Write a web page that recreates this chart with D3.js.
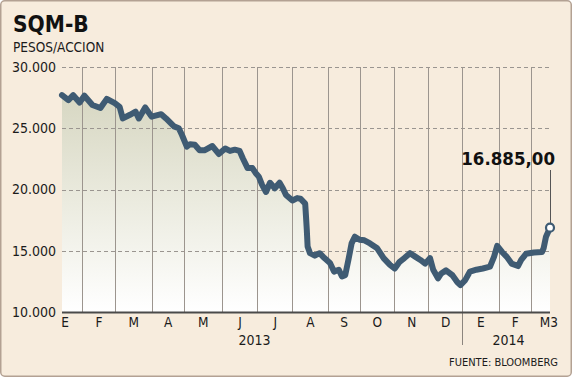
<!DOCTYPE html>
<html>
<head>
<meta charset="utf-8">
<script src="https://cdn.jsdelivr.net/npm/d3@7"></script>
<style>
  html, body { margin: 0; padding: 0; background: #ffffff; }
  svg text { font-family: "DejaVu Sans Condensed", "DejaVu Sans", sans-serif; font-stretch: condensed; }
</style>
</head>
<body>
<svg id="chart" width="572" height="377"></svg>
<script>
// ---- data (x = trading-day index from the first sample) ----
const days = [0,4,7,11,14,19,24,28,33,36,38,42.5,46,48,52,56,62,65,70,73,75,78,80,83,86,89,94,98,102,105,108,111,113,116,119,121,123,125,127.5,130,133,136,138,140,144,147,149,152,152.5,153,153.5,155,158,161,164,167.5,170,173,175,177,179,181,183,186,189,192.5,197,201,205,208,211,214,217.5,221,224,227,230,232,235,237,240,244,247,249,252,255,259,263,267.5,270,272,275,278,281,285,287,290,295,300,301,302.5,305];
const prices = [27700,27300,27700,27100,27650,26900,26650,27400,27050,26750,25800,26100,26350,25800,26700,25950,26150,25800,25150,25000,24450,23500,23700,23650,23200,23200,23550,22900,23350,23150,23250,23150,22550,21750,21750,21350,21050,20400,19800,20550,20100,20550,20100,19550,19100,19300,19250,18850,17800,16700,15350,14800,14600,14800,14400,14000,13300,13450,12900,13000,14250,15600,16150,15900,15850,15600,15200,14400,13850,13550,14100,14400,14800,14500,14250,13950,14400,13450,12750,13150,13400,13000,12450,12200,12600,13300,13450,13550,13700,14500,15400,14900,14500,13950,13750,14250,14750,14850,14900,15200,16150,16885];
const monthBounds = [-9.4,12.5,33,56,76,100,122,144,166,186,207.5,229,250,273,293,315];
const monthLabels = ["E","F","M","A","M","J","J","A","S","O","N","D","E","F","M3"];
const yearLabels = ["2013","2014"];
const yearLabelDays = [120.3,279];
const yearSeparatorDays = [250];
const yTicks = [10000,15000,20000,25000,30000];
const title = "SQM-B";
const subtitle = "PESOS/ACCION";
const source = "FUENTE: BLOOMBERG";

// ---- setup ----
const W = 572, H = 377;
const margin = {left: 62, right: 22, top: 67, bottom: 65};
const svg = d3.select("#chart");
const locale = d3.formatLocale({decimal: ",", thousands: ".", grouping: [3], currency: ["", ""]});
const fmtTick = locale.format(",.0f");
const fmtVal = locale.format(",.2f");

const x = d3.scaleLinear().domain([0, d3.max(days)]).range([margin.left, W - margin.right]);
const y = d3.scaleLinear().domain([10000, 30000]).range([H - margin.bottom, margin.top]);

const data = days.map((d, i) => ({d, v: prices[i]}));

// background
svg.append("rect").attr("x", 0.75).attr("y", 0.75).attr("width", W - 1.5).attr("height", H - 1.5)
  .attr("rx", 4).attr("fill", "#f7ecdd").attr("stroke", "#b3a193").attr("stroke-width", 1.5);

// gradient
const defs = svg.append("defs");
const grad = defs.append("linearGradient").attr("id", "fillGrad")
  .attr("gradientUnits", "userSpaceOnUse")
  .attr("x1", 0).attr("x2", 0).attr("y1", y(28000)).attr("y2", y(10000));
grad.append("stop").attr("offset", 0).attr("stop-color", "#d6d6c1");
grad.append("stop").attr("offset", 0.5).attr("stop-color", "#ebebdf");
grad.append("stop").attr("offset", 1).attr("stop-color", "#ffffff");

// area
const area = d3.area().x(p => x(p.d)).y0(y(10000)).y1(p => y(p.v));
svg.append("path").datum(data).attr("d", area).attr("fill", "url(#fillGrad)");

// horizontal dashed gridlines
svg.append("g").selectAll("line").data(yTicks.filter(t => t > 10000)).join("line")
  .attr("x1", x(0)).attr("x2", x(d3.max(days)))
  .attr("y1", t => Math.round(y(t)) + 0.5).attr("y2", t => Math.round(y(t)) + 0.5)
  .attr("stroke", "#9a9590").attr("stroke-width", 1).attr("stroke-dasharray", "4,3");

// vertical month gridlines
const innerBounds = monthBounds.filter(b => b > 0 && b < d3.max(days));
svg.append("g").selectAll("line").data(innerBounds).join("line")
  .attr("x1", b => Math.round(x(b)) + 0.5).attr("x2", b => Math.round(x(b)) + 0.5)
  .attr("y1", y(30000)).attr("y2", y(10000))
  .attr("stroke", "#9c958e").attr("stroke-width", 1);

// year separator
svg.append("g").selectAll("line").data(yearSeparatorDays).join("line")
  .attr("x1", b => Math.round(x(b)) + 0.5).attr("x2", b => Math.round(x(b)) + 0.5)
  .attr("y1", y(10000)).attr("y2", y(10000) + 33)
  .attr("stroke", "#8c857e").attr("stroke-width", 1);

// bottom axis line
svg.append("line").attr("x1", x(0)).attr("x2", x(d3.max(days)))
  .attr("y1", y(10000) + 0.5).attr("y2", y(10000) + 0.5)
  .attr("stroke", "#4a4a4a").attr("stroke-width", 2);

// price line
const line = d3.line().x(p => x(p.d)).y(p => y(p.v)).curve(d3.curveLinear);
svg.append("path").datum(data).attr("d", line)
  .attr("fill", "none").attr("stroke", "#3f5b73").attr("stroke-width", 6)
  .attr("stroke-linejoin", "round").attr("stroke-linecap", "round");

// y axis labels
const yAxis = d3.axisLeft(y).tickValues(yTicks).tickSize(0).tickPadding(0).tickFormat(fmtTick);
const gy = svg.append("g").attr("transform", `translate(${margin.left - 6},0)`).call(yAxis);
gy.select(".domain").remove();
gy.selectAll("text").attr("font-size", 14).attr("fill", "#1b1b1b")
  .style("font-family", '"DejaVu Sans Condensed", "DejaVu Sans", sans-serif');

// month labels
const monthMid = monthLabels.map((m, i) => (monthBounds[i] + monthBounds[i + 1]) / 2);
const xAxis = d3.axisBottom(x).tickValues(monthMid).tickSize(0).tickPadding(0)
  .tickFormat((d, i) => monthLabels[i]);
const gx = svg.append("g").attr("transform", `translate(0,${y(10000) + 5})`).call(xAxis);
gx.select(".domain").remove();
gx.selectAll("text").attr("font-size", 13.5).attr("fill", "#1b1b1b").attr("dy", "0.72em")
  .style("font-family", '"DejaVu Sans Condensed", "DejaVu Sans", sans-serif');

// year labels
svg.append("g").selectAll("text").data(yearLabels).join("text")
  .attr("x", (t, i) => x(yearLabelDays[i])).attr("y", y(10000) + 33)
  .attr("text-anchor", "middle").attr("font-size", 14).attr("fill", "#1b1b1b").text(t => t);

// titles
svg.append("text").attr("x", 13).attr("y", 32).attr("font-size", 22.5).attr("font-weight", "bold")
  .attr("fill", "#111").text(title);
svg.append("text").attr("x", 13).attr("y", 52).attr("font-size", 13.5)
  .attr("fill", "#1b1b1b").text(subtitle);
svg.append("text").attr("x", 558).attr("y", 366).attr("text-anchor", "end").attr("font-size", 11)
  .attr("fill", "#1b1b1b").text(source);

// callout
const last = data[data.length - 1];
svg.append("line").attr("x1", x(last.d) + 0.5).attr("x2", x(last.d) + 0.5)
  .attr("y1", 170).attr("y2", y(last.v) - 4)
  .attr("stroke", "#555").attr("stroke-width", 1);
svg.append("circle").attr("cx", x(last.d)).attr("cy", y(last.v)).attr("r", 4)
  .attr("fill", "#ffffff").attr("stroke", "#3f5b73").attr("stroke-width", 2.2);
svg.append("text").attr("x", 555).attr("y", 165).attr("text-anchor", "end")
  .attr("font-size", 18.5).attr("font-weight", "bold").attr("fill", "#111").text(fmtVal(last.v));
</script>
</body>
</html>
